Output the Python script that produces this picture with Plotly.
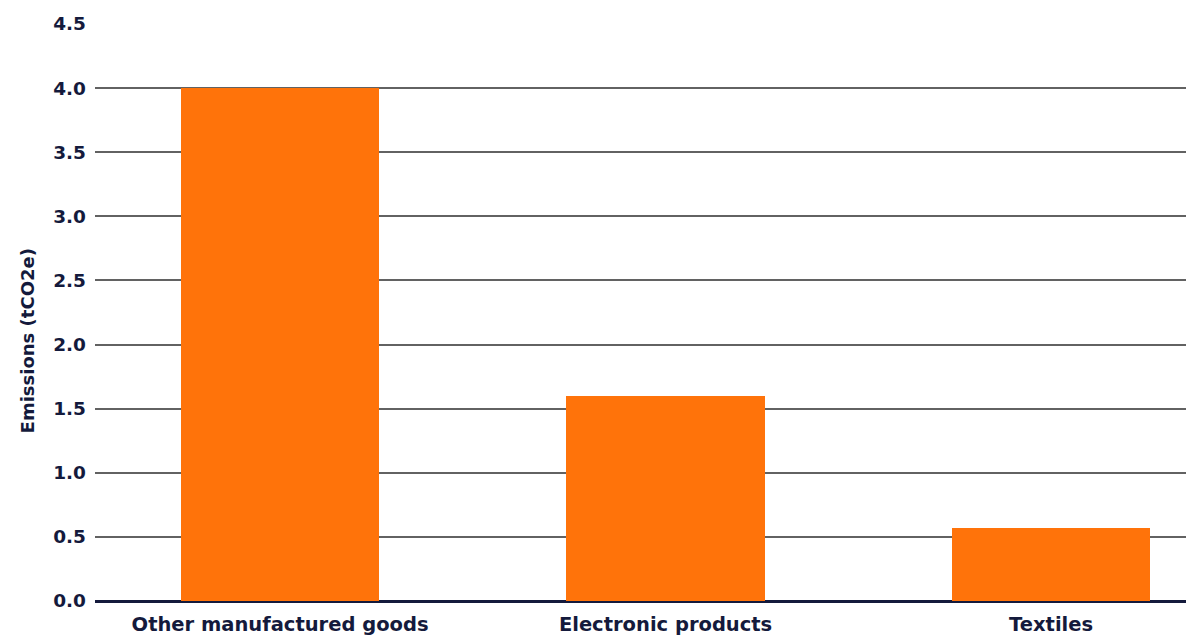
import plotly.graph_objects as go

categories = ["Other manufactured goods", "Electronic products", "Textiles"]
emissions = [4.0, 1.6, 0.57]
y_ticks = [0.0, 0.5, 1.0, 1.5, 2.0, 2.5, 3.0, 3.5, 4.0, 4.5]
y_tick_labels = [f"{v:.1f}" for v in y_ticks]
y_title = "Emissions (tCO2e)"

navy = "#141a3c"
orange = "#ff730a"
font_family = "'DejaVu Sans', sans-serif"

fig = go.Figure(
    go.Bar(
        x=list(range(len(categories))),
        y=emissions,
        width=0.514,
        marker=dict(color=orange, line=dict(width=0)),
        hoverinfo="skip",
    )
)

fig.update_layout(
    width=1186,
    height=636,
    margin=dict(l=95, r=0, t=24, b=35),
    paper_bgcolor="white",
    plot_bgcolor="white",
    showlegend=False,
    bargap=0,
    font=dict(family=font_family, size=18, color=navy),
    xaxis=dict(
        range=[-0.48, 2.35],
        tickmode="array",
        tickvals=list(range(len(categories))),
        ticktext=categories,
        tickfont=dict(size=19.5, color=navy, family=font_family, weight="bold"),
        showgrid=False,
        zeroline=False,
        showline=False,
        ticks="",
        ticklabelstandoff=9,
    ),
    yaxis=dict(
        range=[0, 4.5],
        tickmode="array",
        tickvals=y_ticks,
        ticktext=y_tick_labels,
        tickfont=dict(size=18.5, color=navy, family=font_family, weight="bold"),
        showgrid=True,
        gridcolor="#626262",
        gridwidth=2,
        zeroline=True,
        zerolinecolor=navy,
        zerolinewidth=2.5,
        ticks="",
        ticklabelstandoff=8,
    ),
    annotations=[
        dict(
            text=y_title,
            xref="paper",
            yref="paper",
            x=-0.0623,
            y=0.45,
            xanchor="center",
            yanchor="middle",
            textangle=-90,
            showarrow=False,
            font=dict(size=18, color=navy, family=font_family, weight="bold"),
        )
    ],
)

fig.write_html("out.html")
